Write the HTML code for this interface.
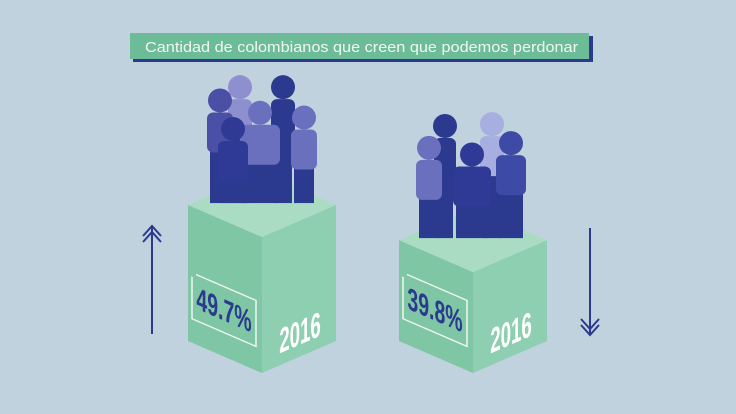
<!DOCTYPE html>
<html><head><meta charset="utf-8"><style>
html,body{margin:0;padding:0;background:#c1d2df;width:736px;height:414px;overflow:hidden}
svg{display:block}
</style></head><body>
<svg id="chart" width="736" height="414" viewBox="0 0 736 414" xmlns="http://www.w3.org/2000/svg">
<rect x="0" y="0" width="736" height="414" fill="#c1d2df"/>
<g>
<rect x="133" y="36" width="460" height="26" fill="#2b3a8f"/>
<rect x="130" y="33" width="459" height="26" fill="#6cbc97"/>
<text x="145" y="52" textLength="433" lengthAdjust="spacingAndGlyphs" font-family="Liberation Sans, sans-serif" font-size="15" fill="#f2f7f4">Cantidad de colombianos que creen que podemos perdonar</text>
</g>
<g stroke="#2b3a8f" stroke-width="2" fill="none">
<line x1="152" y1="226" x2="152" y2="334"/>
<polyline points="143,236 152,226 161,236"/><polyline points="143,242 152,232 161,242"/>
</g>
<g stroke="#2b3a8f" stroke-width="2" fill="none">
<line x1="590" y1="228" x2="590" y2="335"/>
<polyline points="581,325 590,335 599,325"/><polyline points="581,319 590,329 599,319"/>
</g>
<g id="cubes"></g>
</svg>
<script>
const categories = ["2016", "2016"];
const values = [49.7, 39.8];
const valueLabels = ["49.7%", "39.8%"];

const NS = "http://www.w3.org/2000/svg";
const root = document.getElementById("cubes");
const cx = [262, 473];
const baseY = 373;
const halfW = 74, rise = 32;
function heightScale(v){ return -40 + 3.54 * v; }
function mk(tag, attrs, parent){ const e=document.createElementNS(NS,tag); for(const k in attrs) e.setAttribute(k,attrs[k]); (parent||root).appendChild(e); return e; }

const people = [
 [[-22,-122,"#8e8fcf",24],[-42,-108,"#4b4fa6",26],[21,-122,"#2b3a8f",24],[-2,-95,"#6a70bd",40],[-29,-78,"#2f3a97",30],[42,-90,"#6a70bd",26]],
 [[-28,-118,"#2b3a8f",22],[19,-120,"#a7aee0",24],[-44,-95,"#6a70bd",26],[38,-100,"#3d4ba6",30],[-1,-88,"#2f3a97",38]]
];

values.forEach((v,i)=>{
  const g = mk("g",{});
  
  
  const h = heightScale(v);
  const x=cx[i], fb=baseY, ft=baseY-h;
  const lx=x-halfW, rx=x+halfW;
  const left = mk("polygon",{points:`${lx},${ft-rise} ${x},${ft} ${x},${fb} ${lx},${fb-rise}`,fill:"#7ec6a4"},g);
  
  
  const right = mk("polygon",{points:`${x},${ft} ${rx},${ft-rise} ${rx},${fb-rise} ${x},${fb}`,fill:"#8dcfb0"},g);
  
  
  const top = mk("polygon",{points:`${lx},${ft-rise} ${x},${ft-2*rise} ${rx},${ft-rise} ${x},${ft}`,fill:"#a9dcc3"},g);
  
  

  const pg = mk("g",{},g);
  
  
  const feet = ft-34;
  people[i].forEach(p=>{
    const px=x+p[0], hy=feet+p[1]*0.95, bw=p[3], c=p[2];
    mk("rect",{x:px-bw/2+3,y:hy+40,width:bw-6,height:feet-(hy+40),fill:"#2b3a8f"},pg);
    mk("rect",{x:px-bw/2,y:hy+12,width:bw,height:40,rx:6,fill:c},pg);
    mk("circle",{cx:px,cy:hy,r:12,fill:c},pg);
  });

  const lf = mk("g",{transform:`translate(${lx},${ft-rise}) skewY(23.4)`},g);
  const bt = h - 70;
  mk("polyline",{points:`8,${bt} 68,${bt} 68,${bt+46} 4,${bt+46} 4,${bt+4}`,fill:"none",stroke:"#f0f6f3","stroke-width":1.5},lf);
  const t = mk("text",{x:0,y:0,"text-anchor":"middle","font-family":"Liberation Sans Narrow, Liberation Sans, sans-serif","font-size":26,"font-weight":"bold",fill:"#2b3a8f",transform:`translate(36,${bt+34}) scale(0.75,1.2)`},lf);
  t.textContent = valueLabels[i];
  
  

  const rf = mk("g",{transform:`translate(${x},${ft}) skewY(-23.4)`},g);
  const yt = mk("text",{x:0,y:0,"text-anchor":"middle","font-family":"Liberation Sans Narrow, Liberation Sans, sans-serif","font-size":26,"font-weight":"bold",fill:"#ffffff",transform:`translate(38,${h-12}) scale(0.72,1.35)`},rf);
  yt.textContent = categories[i];
  
  
});
</script>
</body></html>
